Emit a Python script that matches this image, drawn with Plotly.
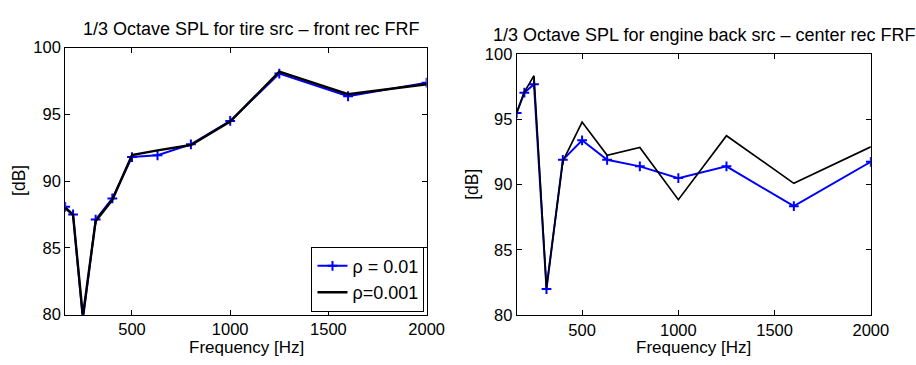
import plotly.graph_objects as go

# 1/3 octave band centre frequencies [Hz]
freq = [160, 200, 250, 315, 400, 500, 630, 800, 1000, 1250, 1600, 2000]

# Tire source, front receiver
tire_rho_01 = [88.07, 87.5, 79.6, 87.12, 88.7, 91.8, 91.93, 92.75, 94.5, 98.05, 96.35, 97.37]
tire_rho_001 = [88.0, 87.45, 79.9, 87.0, 88.6, 91.95, 92.3, 92.7, 94.45, 98.2, 96.5, 97.25]

# Engine back source, centre receiver
engine_rho_01 = [95.5, 97.05, 97.7, 82.0, 91.9, 93.4, 91.9, 91.4, 90.5, 91.4, 88.35, 91.75]
engine_rho_001 = [95.5, 97.1, 98.35, 82.1, 91.8, 94.8, 92.25, 92.85, 88.85, 93.75, 90.1, 92.9]

titles = ["1/3 Octave SPL for tire src \u2013 front rec FRF",
          "1/3 Octave SPL for engine back src \u2013 center rec FRF"]
legend_names = ["\u03c1 = 0.01", "\u03c1=0.001"]
x_ticks = [500, 1000, 1500, 2000]
y_ticks = [80, 85, 90, 95, 100]

W, H = 916, 365
FONT = "Liberation Sans, Arial, Helvetica, sans-serif"
BLUE = "#0000ff"

fig = go.Figure()

fig.add_trace(go.Scatter(x=freq, y=tire_rho_01, mode="lines+markers", name=legend_names[0],
                         line=dict(color=BLUE, width=2),
                         marker=dict(symbol="cross-thin", size=7, line=dict(color=BLUE, width=2)),
                         xaxis="x", yaxis="y", showlegend=True))
fig.add_trace(go.Scatter(x=freq, y=tire_rho_001, mode="lines", name=legend_names[1],
                         line=dict(color="black", width=2.4),
                         xaxis="x", yaxis="y", showlegend=True))
fig.add_trace(go.Scatter(x=freq, y=engine_rho_01, mode="lines+markers",
                         line=dict(color=BLUE, width=2),
                         marker=dict(symbol="cross-thin", size=7, line=dict(color=BLUE, width=2)),
                         xaxis="x2", yaxis="y2", showlegend=False))
fig.add_trace(go.Scatter(x=freq, y=engine_rho_001, mode="lines",
                         line=dict(color="black", width=1.7),
                         xaxis="x2", yaxis="y2", showlegend=False))

def px_x(a, b):
    return [a / W, b / W]

def px_y(top, bottom):
    return [1 - bottom / H, 1 - top / H]

axis_common = dict(showgrid=False, zeroline=False, showline=True, linecolor="black",
                   linewidth=1, mirror="allticks", ticks="inside", ticklen=5,
                   tickcolor="black", tickwidth=1,
                   tickfont=dict(family=FONT, size=16.5, color="black"))

fig.update_layout(
    width=W, height=H, margin=dict(l=0, r=0, t=0, b=0),
    paper_bgcolor="white", plot_bgcolor="white",
    font=dict(family=FONT, color="black"),
    xaxis=dict(domain=px_x(66.5, 435.2), range=[160, 2000], tickvals=x_ticks,
               anchor="y", **axis_common),
    yaxis=dict(domain=px_y(40.5, 321.5), range=[80, 100], tickvals=y_ticks,
               anchor="x", **axis_common),
    xaxis2=dict(domain=px_x(527, 888.3), range=[160, 2000], tickvals=x_ticks,
                anchor="y2", **axis_common),
    yaxis2=dict(domain=px_y(47.5, 322), range=[80, 100], tickvals=y_ticks,
                anchor="x2", **axis_common),
    legend=dict(x=433 / W, y=1 - 318.3 / H, xanchor="right", yanchor="bottom",
                bgcolor="white", bordercolor="black", borderwidth=1,
                font=dict(family=FONT, size=18, color="black"),
                tracegroupgap=0, itemwidth=30),
    showlegend=True,
)

annotations = [
    dict(text=titles[0], x=83 / W, y=1 - 21 / H, xanchor="left", size=18),
    dict(text=titles[1], x=501 / W, y=1 - 27.5 / H, xanchor="left", size=18),
    dict(text="Frequency [Hz]", x=251 / W, y=1 - 356.5 / H, xanchor="center", size=17),
    dict(text="Frequency [Hz]", x=707 / W, y=1 - 356.5 / H, xanchor="center", size=17),
    dict(text="[dB]", x=19.2 / W, y=1 - 180 / H, xanchor="center", textangle=-90, size=17.5),
    dict(text="[dB]", x=480.7 / W, y=1 - 184.7 / H, xanchor="center", textangle=-90, size=17.5),
]
for a in annotations:
    size = a.pop("size")
    fig.add_annotation(xref="paper", yref="paper", showarrow=False, yanchor="middle",
                       font=dict(family=FONT, size=size, color="black"), **a)

fig.write_html("out.html")
